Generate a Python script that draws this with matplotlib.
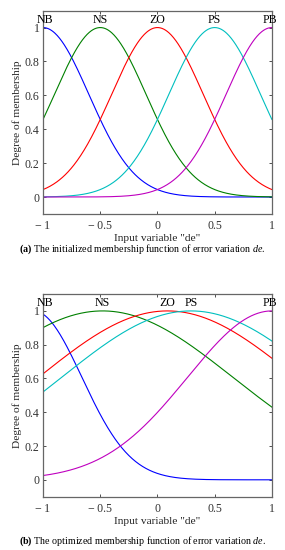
import numpy as np
import matplotlib
matplotlib.use("Agg")
import matplotlib.pyplot as plt

plt.rcParams['font.family'] = 'Liberation Serif'
plt.rcParams['mathtext.fontset'] = 'custom'
plt.rcParams['mathtext.rm'] = 'Liberation Serif'
plt.rcParams['mathtext.it'] = 'Liberation Serif:italic'
plt.rcParams['mathtext.bf'] = 'Liberation Serif:bold'

# membership function labels and gaussian parameters
mf_names = ["NB", "NS", "ZO", "PS", "PB"]
init_centers = [-1.0, -0.5, 0.0, 0.5, 1.0]
init_sigmas = [0.40, 0.40, 0.40, 0.40, 0.40]
opt_centers = [-1.083, -0.48, 0.087, 0.292, 1.0]
opt_sigmas = [0.423, 1.14, 1.126, 1.13, 0.738]
# where the name sits (peak inside the range)
opt_label_x = [-0.985, -0.485, 0.083, 0.295, 0.985]
init_label_x = [-0.985, -0.5, 0.0, 0.5, 0.985]

xticks = [-1, -0.5, 0, 0.5, 1]
xtick_labels = ["\u2212\u20091", "\u2212\u20090.5", "0", "0.5", "1"]
yticks = [0, 0.2, 0.4, 0.6, 0.8, 1]
ytick_labels = ["0", "0.2", "0.4", "0.6", "0.8", "1"]

colors = [(0, 0, 1), (0, 0.5, 0), (1, 0, 0), (0, 0.75, 0.75), (0.75, 0, 0.75)]

captions = [r"$\mathbf{(a)}$ The initialized membership function of error variation $\it{de}$.",
            r"$\mathbf{(b)}$ The optimized membership function of error variation $\it{de}$."]


def draw_panel(ax, centers, sigmas, label_x):
    x = np.linspace(-1, 1, 401)
    for c, s, col in zip(centers, sigmas, colors):
        ax.plot(x, np.exp(-(x - c) ** 2 / (2 * s ** 2)), color=col, lw=0.8)
    for name, lx in zip(mf_names, label_x):
        ax.text(lx, 1.045, name, ha='center', va='center', fontsize=8.6)
    ax.set_xlim(-1, 1)
    ax.set_ylim(-0.1, 1.1)
    ax.set_xticks(xticks)
    ax.set_xticklabels(xtick_labels)
    ax.set_yticks(yticks)
    ax.set_yticklabels(ytick_labels)
    ax.tick_params(direction='in', length=2.5, width=0.6, top=True, right=True,
                   labelsize=8.6, colors='#333333')
    ax.tick_params(axis='x', pad=4.5)
    ax.tick_params(axis='y', pad=2.5)
    for sp in ax.spines.values():
        sp.set_color('#666666')
        sp.set_linewidth(0.9)
    ax.set_xlabel('Input variable "de"', fontsize=8.2, labelpad=1.5, color='#222222')
    ax.set_ylabel('Degree of membership', fontsize=8.2, labelpad=2, color='#222222')


fig = plt.figure(figsize=(2.85, 5.5), dpi=100)
ax1 = fig.add_axes([0.151, 0.611, 0.803, 0.3697])
ax2 = fig.add_axes([0.151, 0.0969, 0.803, 0.3685])
draw_panel(ax1, init_centers, init_sigmas, init_label_x)
draw_panel(ax2, opt_centers, opt_sigmas, opt_label_x)

fig.text(0.5, 1 - 249 / 550, captions[0], ha='center', va='center', fontsize=7.2)
fig.text(0.5, 1 - 541 / 550, captions[1], ha='center', va='center', fontsize=7.2)

fig.savefig("out.png", dpi=100)
